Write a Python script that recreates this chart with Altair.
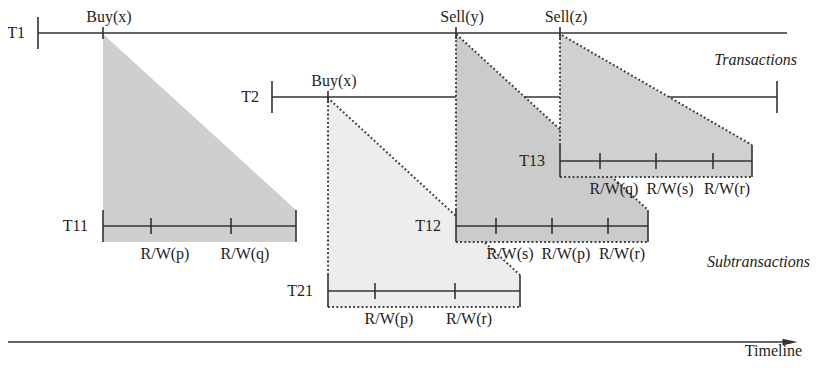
import altair as alt
import pandas as pd

# ---------------- data ----------------
# main transactions (time-axis begin/end, vertical lane)
tx_names = ["T1", "T2"]
tx_lane = [33, 97]
tx_begin = [38, 272]
tx_finish = [787, 777]
tx_closed = [False, True]

# events on the main transactions
ev_tx = ["T1", "T1", "T1", "T2"]
ev_names = ["Buy(x)", "Sell(y)", "Sell(z)", "Buy(x)"]
ev_time = [103, 456, 560, 328]

# subtransactions spawned by events
sub_names = ["T11", "T21", "T12", "T13"]
sub_event = [0, 3, 1, 2]
sub_lane = [226, 291, 226, 161]
sub_finish = [296, 520, 648, 752]
sub_dotted = [False, True, True, True]

# read / write operations inside subtransactions
op_sub = ["T11", "T11", "T21", "T21", "T12", "T12", "T12", "T13", "T13", "T13"]
op_time = [151, 231, 375, 455, 496, 552, 608, 600, 656, 713]
op_names = ["R/W(p)", "R/W(q)", "R/W(p)", "R/W(r)", "R/W(s)", "R/W(p)",
            "R/W(r)", "R/W(q)", "R/W(s)", "R/W(r)"]

timeline_span = [7, 790]

# ---------------- styles ----------------
FILL = {"T11": "#cfcfcf", "T21": "#ededed", "T12": "#cbcbcb", "T13": "#d0d0d0"}
INK = "#333333"
TXT = "#1e1e1e"
FONT = "Liberation Serif"
FS = 16
SW = 1.6

XS = alt.Scale(domain=[8, 811], range=[0, 803], nice=False, zero=False)
YS = alt.Scale(domain=[8, 360], reverse=True, nice=False, zero=False)


def X(f):
    return alt.X(f, type="quantitative", scale=XS, axis=None)


def Y(f):
    return alt.Y(f, type="quantitative", scale=YS, axis=None)


# ---------------- tables ----------------
lane_of = dict(zip(tx_names, tx_lane))
tx_df = pd.DataFrame({"name": tx_names, "lane": tx_lane, "begin": tx_begin,
                      "finish": tx_finish, "closed": tx_closed})
ev_df = pd.DataFrame({"tx": ev_tx, "name": ev_names, "time": ev_time,
                      "lane": [lane_of[t] for t in ev_tx]})
sub_begin = [ev_time[i] for i in sub_event]
sub_top = [lane_of[ev_tx[i]] + 1 for i in sub_event]
sub_df = pd.DataFrame({"name": sub_names, "begin": sub_begin, "top": sub_top,
                       "lane": sub_lane, "finish": sub_finish})
sub_lane_of = dict(zip(sub_names, sub_lane))
op_df = pd.DataFrame({"sub": op_sub, "time": op_time, "name": op_names,
                      "lane": [sub_lane_of[s] for s in op_sub]})

layers = []

# main transaction lines
layers.append(alt.Chart(tx_df).mark_rule(color=INK, strokeWidth=SW).encode(
    x=X("begin"), x2="finish", y=Y("lane")))
layers.append(alt.Chart(tx_df).transform_calculate(
    lo="datum.lane - 16", hi="datum.lane + 16").mark_rule(
    color=INK, strokeWidth=SW).encode(x=X("begin"), y=Y("lo"), y2="hi"))
layers.append(alt.Chart(tx_df).transform_filter("datum.closed").transform_calculate(
    lo="datum.lane - 16", hi="datum.lane + 16").mark_rule(
    color=INK, strokeWidth=SW).encode(x=X("finish"), y=Y("lo"), y2="hi"))

# subtransaction shading + dotted outlines (in drawing order)
for i, s in enumerate(sub_names):
    b, t, l, f = sub_begin[i], sub_top[i], sub_lane[i], sub_finish[i]
    fill_df = pd.DataFrame({"x": [b, f], "y": [t, l - 16], "y2": [l + 16, l + 16]})
    layers.append(alt.Chart(fill_df).mark_area(
        color=FILL[s], opacity=1, interpolate="linear").encode(
        x=X("x"), y=Y("y"), y2="y2"))
    if sub_dotted[i]:
        out_df = pd.DataFrame({
            "seg": ["a", "a", "a", "b", "b"],
            "ord": [0, 1, 2, 0, 1],
            "x": [b, b, f, b, f],
            "y": [l - 16, t, l - 16, l + 16, l + 16],
        })
        layers.append(alt.Chart(out_df).mark_line(
            color="#3a3a3a", strokeWidth=2, strokeDash=[1.8, 2.4]).encode(
            x=X("x"), y=Y("y"), detail="seg:N", order="ord:Q"))

# event ticks and labels
layers.append(alt.Chart(ev_df).transform_calculate(
    lo="datum.lane - 6", hi="datum.lane + 6").mark_rule(
    color=INK, strokeWidth=SW).encode(x=X("time"), y=Y("lo"), y2="hi"))
layers.append(alt.Chart(ev_df).mark_text(
    font=FONT, fontSize=FS, color=TXT, align="center",
    baseline="alphabetic", dx=6, dy=-11).encode(
    x=X("time"), y=Y("lane"), text="name:N"))

# subtransaction lines
layers.append(alt.Chart(sub_df).mark_rule(color=INK, strokeWidth=SW).encode(
    x=X("begin"), x2="finish", y=Y("lane")))
for fld in ["begin", "finish"]:
    layers.append(alt.Chart(sub_df).transform_calculate(
        lo="datum.lane - 16", hi="datum.lane + 16").mark_rule(
        color=INK, strokeWidth=SW).encode(x=X(fld), y=Y("lo"), y2="hi"))

# operation ticks and labels
layers.append(alt.Chart(op_df).transform_calculate(
    lo="datum.lane - 8", hi="datum.lane + 8").mark_rule(
    color=INK, strokeWidth=SW).encode(x=X("time"), y=Y("lo"), y2="hi"))
layers.append(alt.Chart(op_df).mark_text(
    font=FONT, fontSize=FS, color=TXT, align="center",
    baseline="middle", dx=14, dy=28).encode(
    x=X("time"), y=Y("lane"), text="name:N"))

# transaction names
layers.append(alt.Chart(tx_df).mark_text(
    font=FONT, fontSize=FS, color=TXT, align="right",
    baseline="middle", dx=-13).encode(x=X("begin"), y=Y("lane"), text="name:N"))
layers.append(alt.Chart(sub_df).mark_text(
    font=FONT, fontSize=FS, color=TXT, align="right",
    baseline="middle", dx=-15).encode(x=X("begin"), y=Y("lane"), text="name:N"))

# timeline arrow
tl_df = pd.DataFrame({"x": [timeline_span[0]], "x2": [timeline_span[1]], "y": [342]})
layers.append(alt.Chart(tl_df).mark_rule(color=INK, strokeWidth=SW).encode(
    x=X("x"), x2="x2", y=Y("y")))
layers.append(alt.Chart(tl_df).mark_point(
    shape="M-1,-0.45L1,0L-1,0.45Z", size=225, filled=True, color=INK,
    opacity=1).encode(x=X("x2"), y=Y("y")))

# annotations (right-aligned at their right edge)
ann_df = pd.DataFrame({"text": ["Transactions", "Subtransactions", "Timeline"],
                       "x": [797, 810, 802], "y": [60, 262, 356],
                       "style": ["italic", "italic", "normal"]})
layers.append(alt.Chart(ann_df).transform_filter("datum.style == 'italic'").mark_text(
    font=FONT, fontSize=FS, fontStyle="italic", color=TXT,
    align="right", baseline="middle").encode(x=X("x"), y=Y("y"), text="text:N"))
layers.append(alt.Chart(ann_df).transform_filter("datum.style == 'normal'").mark_text(
    font=FONT, fontSize=FS, color=TXT,
    align="right", baseline="alphabetic").encode(x=X("x"), y=Y("y"), text="text:N"))

chart = alt.layer(*layers).properties(
    width=803, height=352, padding=0, autosize=alt.AutoSizeParams(type="none"),
    background="white"
).configure_view(stroke=None)

chart.save("out.html", embed_options={"renderer": "svg", "actions": False})
